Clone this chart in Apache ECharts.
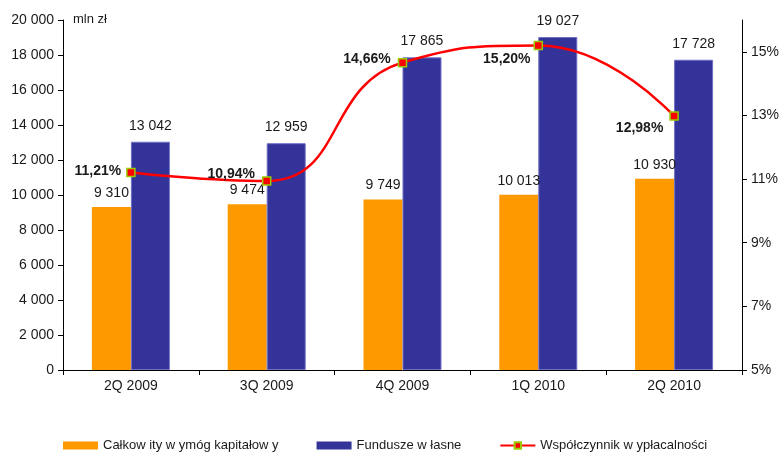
<!DOCTYPE html>
<html>
<head>
<meta charset="utf-8">
<script src="https://cdn.jsdelivr.net/npm/echarts@6/dist/echarts.min.js"></script>
<style>
  html, body { margin: 0; padding: 0; background: #fff; }
  #chart { width: 782px; height: 452px; }
</style>
</head>
<body>
<div id="chart"></div>
<script>
// Quarters shown on the category axis
const quarters = ['2Q 2009', '3Q 2009', '4Q 2009', '1Q 2010', '2Q 2010'];
// Total capital requirement, mln zł
const capitalRequirement = [9310, 9474, 9749, 10013, 10930];
// Own funds, mln zł
const ownFunds = [13042, 12959, 17865, 19027, 17728];
// Solvency ratio, %
const solvencyRatio = [11.21, 10.94, 14.66, 15.20, 12.98];
// Right axis tick values, %
const ratioTicks = [5, 7, 9, 11, 13, 15];

const seriesNames = ['Całkow ity w ymóg kapitałow y', 'Fundusze w łasne', 'Współczynnik w ypłacalności'];

// Where each ratio label sits relative to its marker: [dx, dy]
const ratioLabelOffsets = [[4, -1], [2, -7], [2, -3], [6, 14], [3, 12]];

const fmtThousands = v => String(v).replace(/\B(?=(\d{3})+(?!\d))/g, ' ');
const fmtPct = v => v.toFixed(2).replace('.', ',') + '%';

const textColor = '#1a1a1a';
const baseFont = '"Liberation Sans", Arial, sans-serif';

const chart = echarts.init(document.getElementById('chart'), null, { renderer: 'canvas' });

chart.setOption({
  animation: false,
  backgroundColor: '#ffffff',
  textStyle: { fontFamily: baseFont },
  grid: { left: 63, right: 40, top: 20, bottom: 82, containLabel: false },
  graphic: [{
    type: 'text',
    left: 73,
    top: 13,
    style: { text: 'mln zł', font: '13px ' + baseFont, fill: textColor }
  }],
  legend: {
    left: 58,
    top: 434,
    itemWidth: 35,
    itemHeight: 8,
    itemGap: 38,
    textStyle: {
      fontFamily: baseFont,
      fontSize: 13,
      color: textColor
    },
    data: [
      { name: seriesNames[0], icon: 'rect' },
      { name: seriesNames[1], icon: 'rect', itemStyle: { borderWidth: 0 } },
      { name: seriesNames[2] }
    ]
  },
  xAxis: {
    type: 'category',
    data: quarters,
    boundaryGap: true,
    axisLine: { lineStyle: { color: '#000', width: 1 } },
    axisTick: { show: true, alignWithLabel: false, length: 5, lineStyle: { color: '#000' } },
    axisLabel: { color: textColor, fontSize: 14, margin: 9 }
  },
  yAxis: [{
    type: 'value',
    min: 0,
    max: 20000,
    interval: 2000,
    splitLine: { show: false },
    axisLine: { show: true, lineStyle: { color: '#000', width: 1 } },
    axisTick: { show: true, length: 5, lineStyle: { color: '#000' } },
    axisLabel: { color: textColor, fontSize: 14, margin: 9, formatter: fmtThousands }
  }, {
    type: 'value',
    position: 'right',
    min: 5,
    max: 16,
    interval: 1,
    splitLine: { show: false },
    axisLine: { show: true, lineStyle: { color: '#000', width: 1 } },
    axisTick: { show: true, length: 5, inside: false, customValues: ratioTicks, lineStyle: { color: '#000' } },
    axisLabel: { color: textColor, fontSize: 14, margin: 9, customValues: ratioTicks, formatter: v => v + '%' }
  }],
  series: [{
    name: seriesNames[0],
    type: 'bar',
    data: capitalRequirement,
    barWidth: 39,
    barGap: '0%',
    itemStyle: { color: '#FF9900' },
    label: {
      show: true, position: 'top', distance: 7,
      color: textColor, fontSize: 14, formatter: p => fmtThousands(p.value)
    }
  }, {
    name: seriesNames[1],
    type: 'bar',
    data: ownFunds,
    barWidth: 39,
    barGap: '0%',
    itemStyle: { color: '#333399', borderColor: '#6f6fc4', borderWidth: 1 },
    label: {
      show: true, position: 'top', distance: 9,
      color: textColor, fontSize: 14, formatter: p => fmtThousands(p.value)
    }
  }, {
    name: seriesNames[2],
    type: 'line',
    yAxisIndex: 1,
    z: 5,
    smooth: 0.5,
    data: solvencyRatio.map((v, i) => ({
      value: v,
      label: { offset: ratioLabelOffsets[i] }
    })),
    symbol: 'rect',
    symbolSize: 8,
    lineStyle: { color: '#FF0000', width: 2.5 },
    itemStyle: { color: '#FF0000', borderColor: '#99CC00', borderWidth: 1.5 },
    label: {
      show: true, position: 'left', distance: 9,
      color: textColor, fontSize: 14, fontWeight: 'bold',
      formatter: p => fmtPct(p.value)
    }
  }]
});
</script>
</body>
</html>
